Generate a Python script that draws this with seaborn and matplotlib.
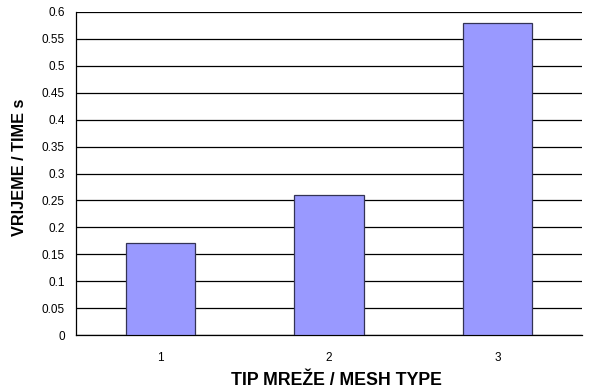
import matplotlib
matplotlib.use("Agg")
import matplotlib.pyplot as plt
import seaborn as sns
import pandas as pd
import numpy as np

mesh_types = ["1", "2", "3"]
times = [0.17, 0.26, 0.58]
y_ticks = [0, 0.05, 0.1, 0.15, 0.2, 0.25, 0.3, 0.35, 0.4, 0.45, 0.5, 0.55, 0.6]
y_tick_labels = ["0", "0.05", "0.1", "0.15", "0.2", "0.25", "0.3", "0.35", "0.4", "0.45", "0.5", "0.55", "0.6"]

sns.set_style("white")
plt.rcParams['font.family'] = ['Liberation Sans', 'DejaVu Sans']
plt.rcParams['text.color'] = 'black'
plt.rcParams['axes.labelcolor'] = 'black'
plt.rcParams['xtick.color'] = 'black'
plt.rcParams['ytick.color'] = 'black'

df = pd.DataFrame({"mesh": mesh_types, "time": times})

fig = plt.figure(figsize=(5.89, 3.91), dpi=100)
ax = fig.add_axes([76/589, 1-335/391, (582-76)/589, (335-12)/391])

sns.barplot(data=df, x="mesh", y="time", ax=ax, color="#9999FF", saturation=1,
            width=0.41, edgecolor="#333355", linewidth=0.9, zorder=3)

ax.set_ylim(0, 0.6)
ax.set_xlim(-0.5, 2.5)
ax.set_yticks(y_ticks)
ax.set_yticklabels(y_tick_labels, fontsize=8.5)
ax.yaxis.grid(True, color="black", linewidth=0.9, zorder=0)
ax.set_axisbelow(True)

ax.set_xticks([0, 1, 2])
ax.set_xticklabels(mesh_types, fontsize=8.5)
ax.tick_params(axis="x", which="major", length=0, pad=12, labelcolor="black")
ax.set_xticks([-0.5, 0.5, 1.5, 2.5], minor=True)
ax.tick_params(axis="x", which="minor", length=4, width=0.9, color="black", direction="out")
ax.tick_params(axis="y", which="major", length=5, width=0.9, color="black", direction="out", pad=3, labelcolor="black")

for s in ["top", "right"]:
    ax.spines[s].set_visible(False)
for s in ["left", "bottom"]:
    ax.spines[s].set_color("black")
    ax.spines[s].set_linewidth(0.9)

ax.set_xlabel("TIP MREŽE / MESH TYPE", fontsize=12.8, fontweight="bold", color="black")
ax.xaxis.set_label_coords(0.515, -0.115)
ax.set_ylabel("VRIJEME / TIME s", fontsize=11.7, fontweight="bold", color="black")
ax.yaxis.set_label_coords(-0.097, 0.52)

fig.savefig("out.png", dpi=100)
